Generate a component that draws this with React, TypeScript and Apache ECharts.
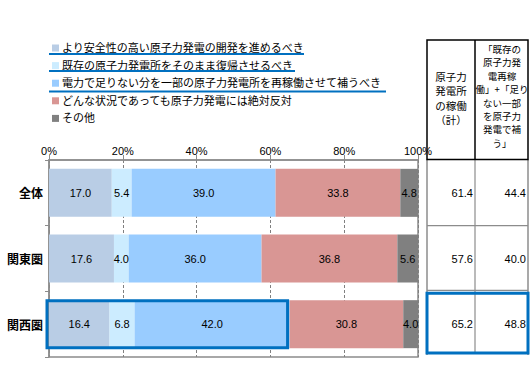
import React, { useEffect, useRef } from "react";
import * as echarts from "echarts";

const categories = ["全体", "関東圏", "関西圏"];
const seriesNames = [
  "より安全性の高い原子力発電の開発を進めるべき",
  "既存の原子力発電所をそのまま復帰させるべき",
  "電力で足りない分を一部の原子力発電所を再稼働させて補うべき",
  "どんな状況であっても原子力発電には絶対反対",
  "その他",
];
const s1 = [17.0, 17.6, 16.4];
const s2 = [5.4, 4.0, 6.8];
const s3 = [39.0, 36.0, 42.0];
const s4 = [33.8, 36.8, 30.8];
const s5 = [4.8, 5.6, 4.0];
const colors = ["#B9CDE5", "#CCECFF", "#99CCFF", "#D99694", "#808080"];
const xTicks = [0, 20, 40, 60, 80, 100];

const col1Header = ["原子力", "発電所", "の稼働", "（計）"];
const col2Header = ["「既存の", "原子力発", "電再稼", "働」+「足り", "ない一部", "を原子力", "発電で補", "う」"];
const col1Values = categories.map((_, i) => s1[i] + s2[i] + s3[i]);
const col2Values = categories.map((_, i) => s2[i] + s3[i]);
const highlightIndex = 2;

const FONT = "'Liberation Sans', 'Noto Sans CJK JP', sans-serif";
const JP = "'Noto Sans CJK JP', sans-serif";

export default function App() {
  const ref = useRef<HTMLDivElement>(null);
  useEffect(() => {
    if (!ref.current) return;
    const chart = echarts.init(ref.current, undefined, { renderer: "svg" });
    const all = [s1, s2, s3, s4, s5];
    const option: any = {
      animation: false,
      textStyle: { fontFamily: FONT },
      legend: {
        orient: "vertical",
        left: 47,
        top: 37,
        itemWidth: 7,
        itemHeight: 7,
        itemGap: 5.6,
        icon: "rect",
        selectedMode: false,
        textStyle: { fontSize: 11, color: "#000", lineHeight: 12, fontFamily: FONT, padding: [0, 0, 0, -2] },
        data: seriesNames,
      },
      grid: {
        left: 49,
        right: 114,
        top: 160,
        bottom: 22,
        show: true,
        borderColor: "#8c8c8c",
        borderWidth: 1.5,
      },
      xAxis: {
        type: "value",
        position: "top",
        min: 0,
        max: 100,
        interval: 20,
        axisLine: { show: true, lineStyle: { color: "#8c8c8c", width: 1.5 } },
        axisTick: { show: true, length: 5, lineStyle: { color: "#8c8c8c" } },
        axisLabel: {
          color: "#000",
          fontSize: 11,
          margin: 4,
          formatter: (v: number) => (xTicks.includes(v) ? v + "%" : ""),
        },
        splitLine: { show: true, lineStyle: { color: "#808080", type: [3, 2] } },
      },
      yAxis: {
        type: "category",
        inverse: true,
        data: categories,
        axisLine: { show: true, lineStyle: { color: "#8c8c8c", width: 1.5 } },
        axisTick: { show: true, length: 4, lineStyle: { color: "#8c8c8c" } },
        axisLabel: { color: "#000", fontSize: 12, fontWeight: "bold", margin: 6, fontFamily: JP },
      },
      series: all.map((d, k) => ({
        name: seriesNames[k],
        type: "bar",
        stack: "total",
        barWidth: 48,
        itemStyle: { color: colors[k] },
        label: {
          show: true,
          position: "inside",
          color: "#000",
          fontSize: 11,
          fontFamily: FONT,
          formatter: (p: any) => Number(p.value).toFixed(1),
        },
        data: d,
      })),
    };
    chart.setOption(option);

    const sumHi = s1[highlightIndex] + s2[highlightIndex] + s3[highlightIndex];
    const p0 = chart.convertToPixel({ xAxisIndex: 0, yAxisIndex: 0 }, [0, highlightIndex]) as number[];
    const p1 = chart.convertToPixel({ xAxisIndex: 0, yAxisIndex: 0 }, [sumHi, highlightIndex]) as number[];
    const rowCenters = categories.map(
      (_, i) => (chart.convertToPixel({ xAxisIndex: 0, yAxisIndex: 0 }, [0, i]) as number[])[1]
    );

    const tL = 427, tM = 475, tR = 528, hTop = 40, hBot = 159.5, bBot = 357;
    const grey = "#8c8c8c";
    const blue = "#0070C0";
    const g: any[] = [];
    [[54, 304], [71, 295], [91.5, 386]].forEach(([y, x2]) => {
      g.push({ type: "line", shape: { x1: 49, y1: y, x2, y2: y }, style: { stroke: blue, lineWidth: 2 }, z: 10 });
    });
    g.push({
      type: "rect",
      shape: { x: p0[0] - 2, y: p0[1] - 23.5, width: p1[0] - p0[0], height: 47 },
      style: { fill: "none", stroke: blue, lineWidth: 3 },
      z: 20,
    });
    const boundary1 = (rowCenters[0] + rowCenters[1]) / 2;
    const boundary2 = (rowCenters[1] + rowCenters[2]) / 2;
    g.push({ type: "line", shape: { x1: tL, y1: hBot, x2: tL, y2: bBot - 2 }, style: { stroke: grey, lineWidth: 1.5 } });
    g.push({ type: "line", shape: { x1: tM, y1: hBot, x2: tM, y2: bBot - 4 }, style: { stroke: grey, lineWidth: 1.2 } });
    g.push({ type: "line", shape: { x1: tR, y1: hBot, x2: tR, y2: bBot - 2 }, style: { stroke: grey, lineWidth: 1.5 } });
    g.push({ type: "line", shape: { x1: tL, y1: boundary1, x2: tR, y2: boundary1 }, style: { stroke: grey, lineWidth: 1.2 } });
    g.push({ type: "line", shape: { x1: tL, y1: boundary2 - 1, x2: tR, y2: boundary2 - 1 }, style: { stroke: grey, lineWidth: 1.2 } });
    g.push({ type: "rect", shape: { x: tL, y: hTop, width: tR - tL, height: hBot - hTop }, style: { fill: "#fff", stroke: "#000", lineWidth: 1.5 } });
    g.push({ type: "line", shape: { x1: tM, y1: hTop, x2: tM, y2: hBot }, style: { stroke: "#000", lineWidth: 1.5 } });
    col1Header.forEach((t, i) => {
      g.push({
        type: "text",
        x: (tL + tM) / 2,
        y: 76 + i * 14.5,
        style: { text: t, align: "center", verticalAlign: "middle", fontSize: 10.5, fill: "#000", fontFamily: JP },
      });
    });
    col2Header.forEach((t, i) => {
      g.push({
        type: "text",
        x: (tM + tR) / 2 + 0.5,
        y: 49 + i * 13.4,
        style: { text: t, align: "center", verticalAlign: "middle", fontSize: 9.5, fill: "#000", fontFamily: JP },
      });
    });
    rowCenters.forEach((yc, i) => {
      g.push({ type: "text", x: tM - 2, y: yc, style: { text: col1Values[i].toFixed(1), align: "right", verticalAlign: "middle", fontSize: 11, fill: "#000", fontFamily: FONT } });
      g.push({ type: "text", x: tR - 2, y: yc, style: { text: col2Values[i].toFixed(1), align: "right", verticalAlign: "middle", fontSize: 11, fill: "#000", fontFamily: FONT } });
    });
    g.push({
      type: "rect",
      shape: { x: tL, y: boundary2 + 2, width: tR - tL, height: bBot - 4 - boundary2 - 2 },
      style: { fill: "none", stroke: blue, lineWidth: 3 },
      z: 20,
    });
    chart.setOption({ graphic: g });
    return () => chart.dispose();
  }, []);
  return <div ref={ref} style={{ position: "fixed", left: 0, top: 0, width: 532, height: 379, background: "#fff" }} />;
}
